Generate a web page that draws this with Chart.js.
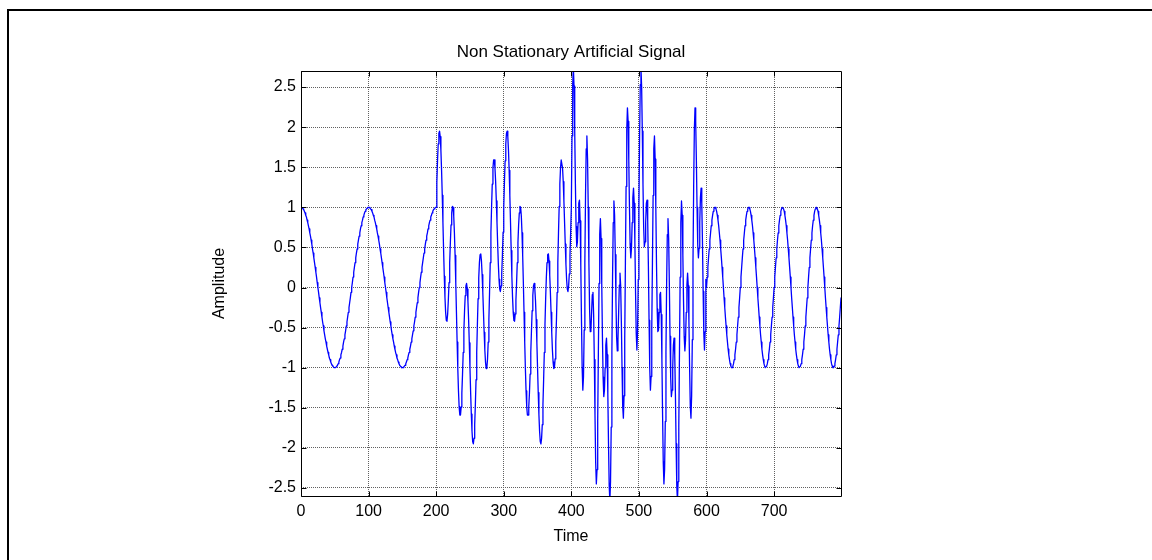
<!DOCTYPE html>
<html>
<head>
<meta charset="utf-8">
<title>Non Stationary Artificial Signal</title>
<script src="https://cdn.jsdelivr.net/npm/chart.js@4/dist/chart.umd.min.js"></script>
<style>
  html, body { margin: 0; padding: 0; background: #ffffff; }
  #wrap { position: relative; width: 1152px; height: 560px; overflow: hidden; background: #ffffff; }
  #frame { position: absolute; left: 7px; top: 9px; width: 2000px; height: 2000px;
           border-top: 2px solid #000; border-left: 2px solid #000; pointer-events: none; }
</style>
</head>
<body>
<div id="wrap">
  <canvas id="c" width="1152" height="560"></canvas>
  <div id="frame"></div>
</div>
<script>
// ---- Data (amplitude per time sample, 1 sample per time unit) ----
const firstSampleTime = 0;

// t = 0 .. 199 : slow stationary oscillation
const stationaryStart = [
  1,1,.99,.98,.97,.95,.93,.9,.88,.84,.81,.77,.73,.68,.64,.59,.54,.48,.43,.37,
  .31,.25,.19,.13,.06,0,-.06,-.13,-.19,-.25,-.31,-.37,-.43,-.48,-.54,-.59,-.64,-.68,-.73,-.77,
  -.81,-.84,-.88,-.9,-.93,-.95,-.97,-.98,-.99,-1,-1,-1,-.99,-.98,-.97,-.95,-.93,-.9,-.88,-.84,
  -.81,-.77,-.73,-.68,-.64,-.59,-.54,-.48,-.43,-.37,-.31,-.25,-.19,-.13,-.06,0,.06,.13,.19,.25,
  .31,.37,.43,.48,.54,.59,.64,.68,.73,.77,.81,.84,.88,.9,.93,.95,.97,.98,.99,1,
  1,1,.99,.98,.97,.95,.93,.9,.88,.84,.81,.77,.73,.68,.64,.59,.54,.48,.43,.37,
  .31,.25,.19,.13,.06,0,-.06,-.13,-.19,-.25,-.31,-.37,-.43,-.48,-.54,-.59,-.64,-.68,-.73,-.77,
  -.81,-.84,-.88,-.9,-.93,-.95,-.97,-.98,-.99,-1,-1,-1,-.99,-.98,-.97,-.95,-.93,-.9,-.88,-.84,
  -.81,-.77,-.73,-.68,-.64,-.59,-.54,-.48,-.43,-.37,-.31,-.25,-.19,-.13,-.06,0,.06,.13,.19,.25,
  .31,.37,.43,.48,.54,.59,.64,.68,.73,.77,.81,.84,.88,.9,.93,.95,.97,.98,.99,1
];

// t = 200 .. 399 : first non-stationary burst
const burstLow = [
  1,1.31,1.58,1.79,1.92,1.95,1.88,1.71,1.46,1.15,.81,.46,.14,-.12,-.31,-.41,-.42,-.33,-.16,.06,
  .31,.56,.78,.93,1.01,1,.89,.68,.4,.06,-.31,-.68,-1.01,-1.29,-1.49,-1.59,-1.59,-1.49,-1.32,-1.08,
  -.81,-.54,-.29,-.1,.02,.05,-.02,-.17,-.4,-.69,-1,-1.31,-1.58,-1.79,-1.92,-1.95,-1.88,-1.71,-1.46,-1.15,
  -.81,-.46,-.14,.12,.31,.41,.42,.33,.16,-.06,-.31,-.56,-.78,-.93,-1.01,-1,-.89,-.68,-.4,-.06,
  .31,.68,1.01,1.29,1.49,1.59,1.59,1.49,1.32,1.08,.81,.54,.29,.1,-.02,-.05,.02,.17,.4,.69,
  1,1.31,1.58,1.79,1.92,1.95,1.88,1.71,1.46,1.15,.81,.46,.14,-.12,-.31,-.41,-.42,-.33,-.16,.06,
  .31,.56,.78,.93,1.01,1,.89,.68,.4,.06,-.31,-.68,-1.01,-1.29,-1.49,-1.59,-1.59,-1.49,-1.32,-1.08,
  -.81,-.54,-.29,-.1,.02,.05,-.02,-.17,-.4,-.69,-1,-1.31,-1.58,-1.79,-1.92,-1.95,-1.88,-1.71,-1.46,-1.15,
  -.81,-.46,-.14,.12,.31,.41,.42,.33,.16,-.06,-.31,-.56,-.78,-.93,-1.01,-1,-.89,-.68,-.4,-.06,
  .31,.68,1.01,1.29,1.49,1.59,1.59,1.49,1.32,1.08,.81,.54,.29,.1,-.02,-.05,.02,.17,.4,.69
];

// t = 400 .. 599 : second, faster non-stationary burst
const burstHigh = [
  1,1.89,2.53,2.74,2.51,1.95,1.29,.76,.51,.57,.81,1.05,1.09,.83,.27,-.41,-1,-1.28,-1.11,-.53,
  .31,1.15,1.73,1.89,1.6,1,.3,-.27,-.55,-.53,-.31,-.09,-.06,-.34,-.9,-1.59,-2.18,-2.45,-2.27,-1.67,
  -.81,.05,.66,.86,.61,.05,-.61,-1.12,-1.36,-1.28,-1,-.72,-.63,-.84,-1.33,-1.95,-2.47,-2.66,-2.42,-1.74,
  -.81,.13,.81,1.08,.9,.41,-.17,-.62,-.79,-.65,-.31,.03,.18,.02,-.43,-1,-1.48,-1.63,-1.35,-.65,
  .31,1.26,1.96,2.24,2.07,1.59,1,.54,.37,.49,.81,1.12,1.24,1.05,.57,-.05,-.57,-.78,-.55,.1,
  1,1.89,2.53,2.74,2.51,1.95,1.29,.76,.51,.57,.81,1.05,1.09,.83,.27,-.41,-1,-1.28,-1.11,-.53,
  .31,1.15,1.73,1.89,1.6,1,.3,-.27,-.55,-.53,-.31,-.09,-.06,-.34,-.9,-1.59,-2.18,-2.45,-2.27,-1.67,
  -.81,.05,.66,.86,.61,.05,-.61,-1.12,-1.36,-1.28,-1,-.72,-.63,-.84,-1.33,-1.95,-2.47,-2.66,-2.42,-1.74,
  -.81,.13,.81,1.08,.9,.41,-.17,-.62,-.79,-.65,-.31,.03,.18,.02,-.43,-1,-1.48,-1.63,-1.35,-.65,
  .31,1.26,1.96,2.24,2.07,1.59,1,.54,.37,.49,.81,1.12,1.24,1.05,.57,-.05,-.57,-.78,-.55,.1
];

// t = 600 .. 799 : faster stationary oscillation
const stationaryEnd = [
  0,.13,.25,.37,.48,.59,.68,.77,.84,.9,.95,.98,1,1,.98,.95,.9,.84,.77,.68,
  .59,.48,.37,.25,.13,0,-.13,-.25,-.37,-.48,-.59,-.68,-.77,-.84,-.9,-.95,-.98,-1,-1,-.98,
  -.95,-.9,-.84,-.77,-.68,-.59,-.48,-.37,-.25,-.13,
  0,.13,.25,.37,.48,.59,.68,.77,.84,.9,.95,.98,1,1,.98,.95,.9,.84,.77,.68,
  .59,.48,.37,.25,.13,0,-.13,-.25,-.37,-.48,-.59,-.68,-.77,-.84,-.9,-.95,-.98,-1,-1,-.98,
  -.95,-.9,-.84,-.77,-.68,-.59,-.48,-.37,-.25,-.13,
  0,.13,.25,.37,.48,.59,.68,.77,.84,.9,.95,.98,1,1,.98,.95,.9,.84,.77,.68,
  .59,.48,.37,.25,.13,0,-.13,-.25,-.37,-.48,-.59,-.68,-.77,-.84,-.9,-.95,-.98,-1,-1,-.98,
  -.95,-.9,-.84,-.77,-.68,-.59,-.48,-.37,-.25,-.13,
  0,.13,.25,.37,.48,.59,.68,.77,.84,.9,.95,.98,1,1,.98,.95,.9,.84,.77,.68,
  .59,.48,.37,.25,.13,0,-.13,-.25,-.37,-.48,-.59,-.68,-.77,-.84,-.9,-.95,-.98,-1,-1,-.98,
  -.95,-.9,-.84,-.77,-.68,-.59,-.48,-.37,-.25,-.13
];

const xTicks = [0, 100, 200, 300, 400, 500, 600, 700];
const yTicks = [-2.5, -2, -1.5, -1, -0.5, 0, 0.5, 1, 1.5, 2, 2.5];
const xRange = [0, 799];
const yRange = [-2.6, 2.7];

const titleText = 'Non Stationary Artificial Signal';
const xLabel = 'Time';
const yLabel = 'Amplitude';

// ---- Build the point table from the arrays ----
const amplitude = [].concat(stationaryStart, burstLow, burstHigh, stationaryEnd);
const points = amplitude.map((v, i) => ({ x: firstSampleTime + i, y: v }));

Chart.defaults.font.family = "'Liberation Sans', Arial, sans-serif";
Chart.defaults.color = '#000';

// MATLAB-like box with inward tick marks on all four sides
const boxPlugin = {
  id: 'matlabBox',
  afterDatasetsDraw(chart) {
    const { ctx, chartArea: a, scales: { x, y } } = chart;
    const L = Math.round(a.left) + 0.5, R = Math.round(a.right) + 0.5;
    const T = Math.round(a.top) + 0.5, B = Math.round(a.bottom) + 0.5;
    const tl = 5;
    ctx.save();
    ctx.strokeStyle = '#000';
    ctx.lineWidth = 1;
    ctx.setLineDash([]);
    ctx.beginPath();
    ctx.rect(L, T, R - L, B - T);
    x.ticks.forEach(t => {
      const px = Math.round(x.getPixelForValue(t.value)) + 0.5;
      ctx.moveTo(px, B); ctx.lineTo(px, B - tl);
      ctx.moveTo(px, T); ctx.lineTo(px, T + tl);
    });
    y.ticks.forEach(t => {
      const py = Math.round(y.getPixelForValue(t.value)) + 0.5;
      ctx.moveTo(L, py); ctx.lineTo(L + tl, py);
      ctx.moveTo(R, py); ctx.lineTo(R - tl, py);
    });
    ctx.stroke();
    ctx.restore();
  }
};

new Chart(document.getElementById('c'), {
  type: 'line',
  data: {
    datasets: [{
      data: points,
      borderColor: '#0000ff',
      borderWidth: 1.3,
      borderJoinStyle: 'round',
      borderCapStyle: 'round',
      pointRadius: 0,
      fill: false,
      tension: 0
    }]
  },
  options: {
    responsive: false,
    animation: false,
    events: [],
    layout: { padding: { left: 0, right: 311, top: 0, bottom: 0 } },
    plugins: {
      legend: { display: false },
      tooltip: { enabled: false },
      title: {
        display: true,
        text: titleText,
        fullSize: false,
        color: '#000',
        font: { size: 17, weight: 'normal' },
        padding: { top: 42, bottom: 8.6 }
      }
    },
    scales: {
      x: {
        type: 'linear',
        min: xRange[0],
        max: xRange[1],
        afterBuildTicks: s => { s.ticks = xTicks.map(v => ({ value: v })); },
        afterFit: s => { s.height = 64; },
        ticks: {
          autoSkip: false, maxRotation: 0, padding: 6,
          font: { size: 16 }, color: '#000',
          callback: v => String(v)
        },
        grid: { color: '#606060', lineWidth: 1, drawTicks: false },
        border: { display: false, dash: [1, 1] },
        title: { display: true, text: xLabel, font: { size: 16 }, color: '#000', padding: { top: 0, bottom: 13.4 } }
      },
      y: {
        type: 'linear',
        min: yRange[0],
        max: yRange[1],
        afterBuildTicks: s => { s.ticks = yTicks.map(v => ({ value: v })); },
        afterFit: s => { s.width = 301; },
        ticks: {
          autoSkip: false, padding: 5,
          font: { size: 16 }, color: '#000',
          callback: v => String(v)
        },
        grid: { color: '#606060', lineWidth: 1, drawTicks: false },
        border: { display: false, dash: [1, 1] },
        title: { display: true, text: yLabel, font: { size: 16 }, color: '#000', padding: { top: 210.4, bottom: 0 } }
      }
    }
  },
  plugins: [boxPlugin]
});
</script>
</body>
</html>
